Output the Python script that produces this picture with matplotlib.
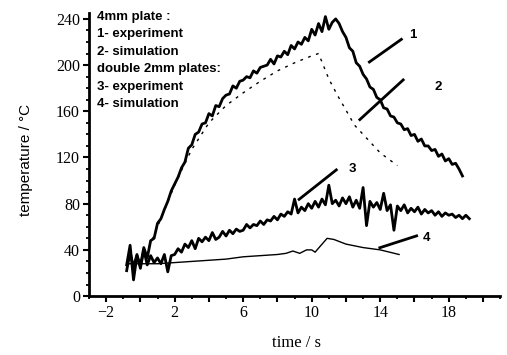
import matplotlib
matplotlib.use("Agg")
import matplotlib.pyplot as plt
from matplotlib.ticker import FixedLocator, FuncFormatter

# ── data ─────────────────────────────────────────────────────────────────────
# 1: 4mm plate, experiment (noisy)
t_exp4 = [-0.8, -0.6, -0.4, -0.2, 0.0, 0.2, 0.4, 0.6, 0.8, 1.0,
          1.2, 1.4, 1.6, 1.8, 2.0, 2.2, 2.4, 2.6, 2.8, 3.0,
          3.2, 3.4, 3.6, 3.8, 4.0, 4.2, 4.4, 4.6, 4.8, 5.0,
          5.2, 5.4, 5.6, 5.8, 6.0, 6.2, 6.4, 6.6, 6.8, 7.0,
          7.2, 7.4, 7.6, 7.8, 8.0, 8.2, 8.4, 8.6, 8.8, 9.0,
          9.2, 9.4, 9.6, 9.8, 10.0, 10.2, 10.4, 10.6, 10.8, 11.0,
          11.2, 11.4, 11.6, 11.8, 12.0, 12.2, 12.4, 12.6, 12.8, 13.0,
          13.2, 13.4, 13.6, 13.8, 14.0, 14.2, 14.4, 14.6, 14.8, 15.0,
          15.2, 15.4, 15.6, 15.8, 16.0, 16.2, 16.4, 16.6, 16.8, 17.0,
          17.2, 17.4, 17.6, 17.8, 18.0, 18.2, 18.4, 18.6, 18.8]
T_exp4 = [27, 44, 14, 35, 26, 42, 33, 48, 50, 63,
          67, 75, 82, 91, 97, 103, 111, 116, 128, 131,
          140, 142, 149, 150, 158, 156, 165, 164, 171, 174,
          175, 182, 180, 186, 187, 190, 189, 195, 193, 198,
          199, 200, 205, 201, 208, 207, 212, 209, 217, 214,
          220, 218, 224, 221, 231, 226, 236, 229, 242, 231,
          237, 240, 236, 229, 224, 215, 212, 202, 199, 192,
          188, 181, 179, 172, 170, 163, 162, 156, 155, 150,
          149, 144, 145, 139, 140, 134, 136, 130, 130, 126,
          127, 121, 123, 117, 119, 114, 115, 110, 104]

# 2: 4mm plate, simulation
t_sim4 = [0.0, 0.5, 1.0, 1.5, 2.0, 2.5, 3.0, 4.0, 5.0, 6.0, 7.0, 8.0,
          9.0, 10.0, 10.4, 11.0, 11.5, 12.0, 12.5, 13.0, 14.0, 15.0]
T_sim4 = [30, 42, 60, 78, 96, 112, 127, 150, 165, 176, 186, 195,
          202, 208, 210, 188, 174, 161, 148, 140, 124, 113]

# 3: double 2mm plates, experiment (noisy)
t_exp2 = [-0.8, -0.6, -0.4, -0.2, 0.0, 0.2, 0.4, 0.6, 0.8, 1.0,
          1.2, 1.4, 1.6, 1.8, 2.0, 2.2, 2.4, 2.6, 2.8, 3.0,
          3.2, 3.4, 3.6, 3.8, 4.0, 4.2, 4.4, 4.6, 4.8, 5.0,
          5.2, 5.4, 5.6, 5.8, 6.0, 6.2, 6.4, 6.6, 6.8, 7.0,
          7.2, 7.4, 7.6, 7.8, 8.0, 8.2, 8.4, 8.6, 8.8, 9.0,
          9.2, 9.4, 9.6, 9.8, 10.0, 10.2, 10.4, 10.6, 10.8, 11.0,
          11.2, 11.4, 11.6, 11.8, 12.0, 12.2, 12.4, 12.6, 12.8, 13.0,
          13.2, 13.4, 13.6, 13.8, 14.0, 14.2, 14.4, 14.6, 14.8, 15.0,
          15.2, 15.4, 15.6, 15.8, 16.0, 16.2, 16.4, 16.6, 16.8, 17.0,
          17.2, 17.4, 17.6, 17.8, 18.0, 18.2, 18.4, 18.6, 18.8, 19.0,
          19.2]
T_exp2 = [22, 38, 25, 36, 24, 40, 27, 35, 29, 33,
          28, 36, 21, 35, 36, 41, 38, 45, 42, 48,
          41, 50, 47, 51, 48, 55, 49, 51, 56, 52,
          57, 54, 58, 56, 57, 62, 59, 62, 61, 65,
          62, 66, 65, 69, 66, 71, 69, 73, 71, 84,
          72, 77, 74, 80, 76, 82, 77, 84, 79, 96,
          80, 83, 78, 85, 80, 86, 77, 83, 76, 94,
          61, 82, 77, 81, 75, 89, 74, 79, 57, 78,
          74, 79, 72, 76, 73, 77, 71, 75, 72, 74,
          70, 73, 69, 72, 70, 71, 68, 70, 67, 70,
          67]

# 4: double 2mm plates, simulation
t_sim2 = [-0.8, 0.0, 1.0, 2.0, 3.0, 4.0, 5.0, 6.0, 7.0, 8.0, 8.5, 8.9,
          9.3, 9.7, 10.0, 10.2, 10.4, 10.9, 11.3, 12.0, 13.0, 14.0, 15.1]
T_sim2 = [28, 28, 28, 29, 30, 31, 32, 34, 35, 36, 37, 39,
          37, 40, 40, 38, 41.5, 50, 49, 45, 42, 40, 36]

legend_lines = ["4mm plate :", "1- experiment", "2- simulation",
                "double 2mm plates:", "3- experiment", "4- simulation"]

# leader lines (start, end) and curve numbers, in data units
leaders = {"1": ((13.3, 202), (15.3, 223), (15.9, 226)),
           "2": ((12.75, 152), (15.4, 188), (17.4, 181)),
           "3": ((9.2, 83), (11.5, 110), (12.4, 110)),
           "4": ((13.9, 41.5), (16.2, 52.5), (16.7, 50))}

# ── figure ───────────────────────────────────────────────────────────────────
fig = plt.figure(figsize=(5.07, 3.55), dpi=100, facecolor="white")
ax = fig.add_axes([0.1755, 0.166, 0.811, 0.797])

ax.plot(t_exp4, T_exp4, color="black", lw=2.0)
ax.plot(t_sim4, T_sim4, color="black", lw=1.0, linestyle=(0, (2, 4)))
ax.plot(t_exp2, T_exp2, color="black", lw=2.0)
ax.plot(t_sim2, T_sim2, color="black", lw=1.0)

for num, (p0, p1, lab) in leaders.items():
    ax.plot([p0[0], p1[0]], [p0[1], p1[1]], color="black", lw=2.0,
            solid_capstyle="butt")
    ax.text(lab[0], lab[1], num, fontsize=9.5, fontweight="bold",
            family="Liberation Sans", ha="center", va="center")

for i, line in enumerate(legend_lines):
    ax.text(0.019, 0.986 - 0.0615 * i, line, transform=ax.transAxes,
            fontsize=9.5, fontweight="bold", family="Liberation Sans",
            ha="left", va="center")

ax.set_xlim(-3, 21)
ax.set_ylim(0, 245)

ax.xaxis.set_major_locator(FixedLocator(range(-2, 21, 2)))
ax.xaxis.set_minor_locator(FixedLocator(range(-3, 22, 2)))
ax.xaxis.set_major_formatter(
    FuncFormatter(lambda v, p: ("\u22122" if v == -2 else f"{int(v)}")
                  if (int(v) - 2) % 4 == 0 else ""))
ax.yaxis.set_major_locator(FixedLocator(range(0, 241, 40)))
ax.yaxis.set_minor_locator(FixedLocator(range(0, 241, 10)))

for lab in ax.get_xticklabels() + ax.get_yticklabels():
    lab.set_family("Liberation Serif")
ax.tick_params(which="major", length=4.5, width=1.5, labelsize=11.5, pad=2,
               direction="out")
ax.tick_params(which="minor", length=2.5, width=1.3, direction="out")

for s in ["top", "right"]:
    ax.spines[s].set_visible(False)
for s in ["left", "bottom"]:
    ax.spines[s].set_linewidth(2.0)

ax.set_xlabel("time / s", fontsize=12, family="Liberation Serif",
              va="center")
ax.xaxis.set_label_coords(0.504, -0.166)
ax.set_ylabel("temperature / \u00b0C", fontsize=11, family="Liberation Sans",
              va="center", ha="center")
ax.yaxis.set_label_coords(-0.153, 0.48)

fig.savefig("out.png", dpi=100, facecolor="white")
